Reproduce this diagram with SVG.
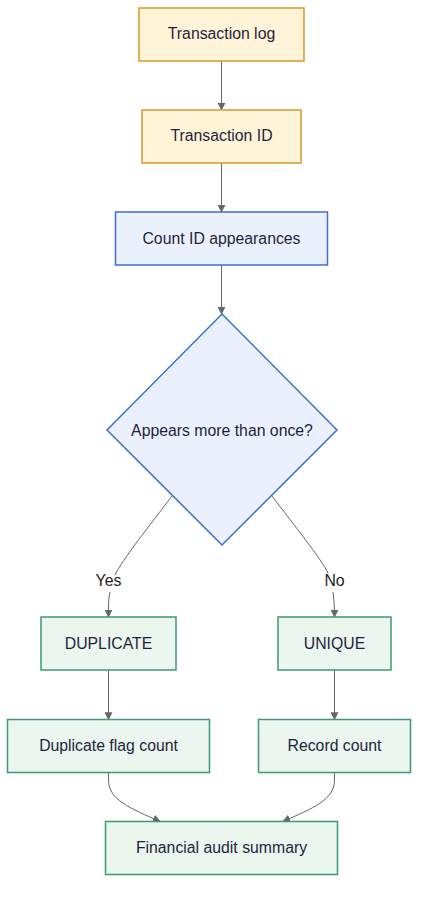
<svg xmlns="http://www.w3.org/2000/svg" width="426" height="899" viewBox="0 0 426 899">
<style>
  .lbl { font-family: "Liberation Sans", Arial, sans-serif; font-size: 15.8px; fill: #1f1f3d; text-anchor: middle; dominant-baseline: central; }
  .elbl { font-family: "Liberation Sans", Arial, sans-serif; font-size: 15.8px; fill: #222; text-anchor: middle; dominant-baseline: central; }
  .yel { fill: #fff3d8; stroke: #d49a2a; stroke-width: 1.5; }
  .blu { fill: #eaf1fd; stroke: #3c6fd6; stroke-width: 1.5; }
  .grn { fill: #eaf6ee; stroke: #3d9970; stroke-width: 1.5; }
  .edge { fill: none; stroke: #666; stroke-width: 1; }
</style>
<defs>
  <marker id="arr" viewBox="0 0 10 10" refX="9" refY="5" markerWidth="8" markerHeight="8" markerUnits="userSpaceOnUse" orient="auto">
    <path d="M0,0 L10,5 L0,10 z" fill="#666"/>
  </marker>
</defs>
<rect width="426" height="899" fill="#ffffff"/>
<g id="edges">
  <path class="edge" d="M221.5,61 L221.5,110" marker-end="url(#arr)"/>
  <path class="edge" d="M221.5,163 L221.5,212" marker-end="url(#arr)"/>
  <path class="edge" d="M221.5,265 L221.5,314" marker-end="url(#arr)"/>
  <path class="edge" d="M172,496 C150,525 122,560 115,575 M110,592 C108,600 108.5,608 108.5,617" marker-end="url(#arr)"/>
  <path class="edge" d="M272,496 C294,525 322,560 328,573 M333,592 C334,600 334.5,608 334.5,617" marker-end="url(#arr)"/>
  <path class="edge" d="M108.5,670 L108.5,719.5" marker-end="url(#arr)"/>
  <path class="edge" d="M334.5,670 L334.5,719.5" marker-end="url(#arr)"/>
  <path class="edge" d="M108.5,773 L108.5,780 C108.5,800 130,808 160,821.5" marker-end="url(#arr)"/>
  <path class="edge" d="M334.5,773 L334.5,780 C334.5,800 313,808 283,821.5" marker-end="url(#arr)"/>
  <text class="elbl" x="108.5" y="580">Yes</text>
  <text class="elbl" x="334.5" y="580">No</text>
</g>
<g id="n1"><rect class="yel" x="139" y="8" width="165" height="53"/><text class="lbl" x="221.5" y="33.5">Transaction log</text></g>
<g id="n2"><rect class="yel" x="142" y="110" width="159" height="53"/><text class="lbl" x="221.5" y="135.5">Transaction ID</text></g>
<g id="n3"><rect class="blu" x="115.5" y="212" width="212" height="53"/><text class="lbl" x="221.5" y="238">Count ID appearances</text></g>
<g id="n4"><polygon class="blu" points="222,314 337,430 222,545 107,430"/><text class="lbl" x="222" y="430">Appears more than once?</text></g>
<g id="n5"><rect class="grn" x="41" y="617" width="135" height="53"/><text class="lbl" x="108.5" y="643">DUPLICATE</text></g>
<g id="n6"><rect class="grn" x="278" y="617" width="113" height="53"/><text class="lbl" x="334.5" y="643">UNIQUE</text></g>
<g id="n7"><rect class="grn" x="7.5" y="719.5" width="202" height="53"/><text class="lbl" x="108.5" y="745.5">Duplicate flag count</text></g>
<g id="n8"><rect class="grn" x="258.5" y="719.5" width="152" height="53"/><text class="lbl" x="334.5" y="745.5">Record count</text></g>
<g id="n9"><rect class="grn" x="105.5" y="821.5" width="232" height="53"/><text class="lbl" x="221.5" y="847.5">Financial audit summary</text></g>
</svg>
